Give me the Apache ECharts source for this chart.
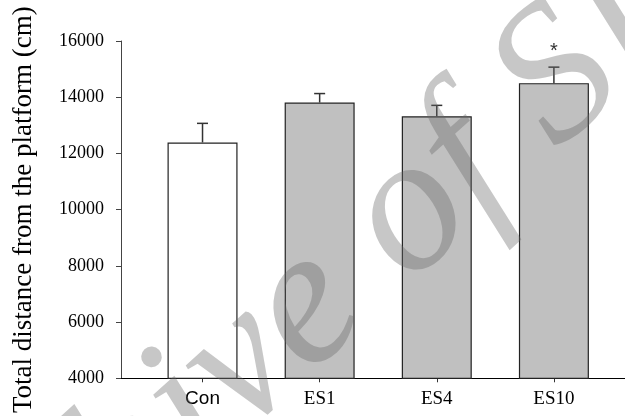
<!DOCTYPE html>
<html><head><meta charset="utf-8">
<script src="https://cdn.jsdelivr.net/npm/echarts@6/dist/echarts.min.js"></script>
<style>html,body{margin:0;padding:0;background:#fff}#c{width:625px;height:416px}</style>
</head><body><div id="c"></div>
<script>
const categories = ['Con', 'ES1', 'ES4', 'ES10'];
const means = [12390, 13810, 13320, 14500];
const errors = [680, 320, 390, 570];
const significance = ['', '', '', '*'];
const barColors = ['#ffffff', '#c0c0c0', '#c0c0c0', '#c0c0c0'];
const yMin = 4000, yMax = 16000, yStep = 2000;
const yTitle = 'Total distance from the platform (cm)';
const watermark = 'Archive of SID';

const chart = echarts.init(document.getElementById('c'), null, {renderer: 'canvas'});
const catIdx = categories.map((c, i) => i);
const barData = means.map((v, i) => ({value: [i, v], itemStyle: {color: barColors[i]}}));
const errData = means.map((v, i) => [i, v, v + errors[i]]);

const option = {
  animation: false,
  backgroundColor: '#fff',
  grid: {left: 121, right: 0, top: 41, bottom: 32, containLabel: false},
  xAxis: {
    type: 'value', min: -0.696, max: 3.607,
    splitLine: {show: false},
    axisLine: {show: true, onZero: false, lineStyle: {color: '#000', width: 1}},
    axisTick: {show: true, customValues: catIdx, length: 4, inside: false, lineStyle: {color: '#333'}},
    axisLabel: {
      customValues: catIdx, margin: 11,
      formatter: v => { const i = Math.round(v); return (i === 0 ? '{s|' : '{r|') + categories[i] + '}'; },
      rich: {
        s: {fontFamily: 'Liberation Sans', fontSize: 19, color: '#000'},
        r: {fontFamily: 'Liberation Serif', fontSize: 19, color: '#000'}
      }
    }
  },
  yAxis: {
    type: 'value', min: yMin, max: yMax, interval: yStep,
    name: yTitle, nameLocation: 'middle', nameGap: 84,
    nameTextStyle: {fontFamily: 'Liberation Serif', fontSize: 27, color: '#000'},
    splitLine: {show: false},
    axisLine: {show: true, onZero: false, lineStyle: {color: '#444', width: 1}},
    axisTick: {show: true, length: 5, lineStyle: {color: '#444'}},
    axisLabel: {margin: 17, fontFamily: 'Liberation Serif', fontSize: 18, color: '#000',
      formatter: v => String(v)}
  },
  series: [
    {
      type: 'bar', data: barData, barWidth: 70,
      itemStyle: {borderColor: '#222', borderWidth: 1.2}
    },
    {
      type: 'custom', data: errData, encode: {x: 0, y: 2}, z: 5,
      renderItem: (params, api) => {
        const x = api.value(0);
        const p0 = api.coord([x, api.value(1)]);
        const p1 = api.coord([x, api.value(2)]);
        const children = [
          {type: 'line', shape: {x1: p0[0], y1: p0[1], x2: p1[0], y2: p1[1]}, style: {stroke: '#333', lineWidth: 1.5}},
          {type: 'line', shape: {x1: p1[0] - 5.5, y1: p1[1], x2: p1[0] + 5.5, y2: p1[1]}, style: {stroke: '#333', lineWidth: 1.5}}
        ];
        const sig = significance[params.dataIndex];
        if (sig) {
          children.push({type: 'text', x: p1[0], y: p1[1] - 16,
            style: {text: sig, fill: '#333', font: '20px "Liberation Sans"', align: 'center', verticalAlign: 'middle'}});
        }
        return {type: 'group', children};
      }
    }
  ],
  graphic: [{
    type: 'text', x: 320, y: 296, rotation: 42 * Math.PI / 180, z: 100, silent: true,
    style: {text: watermark, font: 'italic 195px "Liberation Serif"', fill: 'rgba(104,104,104,0.37)', align: 'center', verticalAlign: 'middle'}
  }]
};
chart.setOption(option);
</script>
</body></html>
